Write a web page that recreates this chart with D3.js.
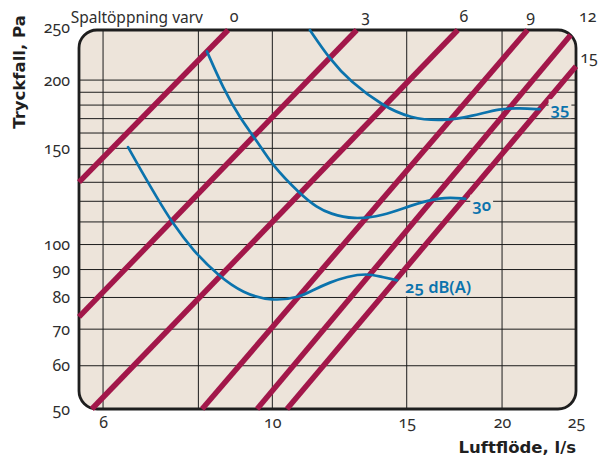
<!DOCTYPE html>
<html>

<head>
    <meta charset="UTF-8">
    <style>
        body { margin: 0; background: #fff; }
        svg { display: block; }
        text { font-family: "Noto Sans", "Open Sans", sans-serif; font-variant-numeric: oldstyle-nums; font-feature-settings: "onum" 1; }
        .title { font-family: "DejaVu Sans", sans-serif; font-weight: bold; font-size: 16.5px; fill: #1f1f1f; }
    </style>
</head>

<body>
    <svg></svg>
    <script src="https://d3js.org/d3.v7.min.js"></script>

    <script>

        let width = 599, height = 459;

        // axes
        const xTicks = [6, 10, 15, 20, 25];
        const xGrid = [6, 8, 10, 15, 20];
        const yTicks = [50, 60, 70, 80, 90, 100, 150, 200, 250];
        const yGrid = [60, 70, 80, 90, 100, 110, 120, 130, 140, 150, 160, 170, 180, 190, 200];

        // Spaltöppning (varv) lines, [l/s, Pa] at both ends
        const spaltVarv = ["0", "3", "6", "9", "12", "15"];
        const spaltFrom = [[5.58, 130.1], [5.58, 73.7], [5.80, 50], [8.09, 50], [9.55, 50], [10.45, 50]];
        const spaltTo = [[8.75, 247], [12.9, 247], [17.5, 247], [21.6, 247], [24.6, 241.8], [25, 212]];

        // sound level curves
        const soundLabels = ["25 dB(A)", "30", "35"];
        const sound25 = [[6.47, 150.8], [6.77, 134.7], [7.06, 121.8], [7.39, 109.7], [7.87, 97.5], [8.49, 87.8], [9.15, 81.4],
            [10.0, 78.7], [10.87, 80.1], [11.3, 82.5], [11.9, 85.3], [12.53, 87.4], [13.3, 88.5], [13.84, 87.4], [14.57, 86.0]];
        const sound30 = [[8.21, 225.6], [8.62, 193.2], [9.07, 170.3], [9.55, 154.7], [10.0, 139.5], [10.87, 123.8], [11.45, 116.8],
            [11.9, 113.9], [12.76, 111.1], [13.97, 112.9], [15.15, 117.8], [16.6, 122.3], [17.9, 121.3]];
        const sound35 = [[11.2, 247], [11.9, 218.2], [12.64, 199], [13.97, 179.2], [15.15, 170.3], [16.74, 168.2], [18.3, 171.8],
            [19.9, 177.6], [21.1, 177.6], [22.4, 176.9]];

        const red = "#a2174a", blue = "#0b73ad", paper = "#ede4da";

        let svg = d3.select("svg")
            .attr("width", width)
            .attr("height", height)
            .attr("viewBox", "0 0 " + width + " " + height);

        let margin = { left: 79, right: 23, top: 30, bottom: 50 };
        let x = d3.scaleLog().domain([5.58, 25]).range([margin.left, width - margin.right]);
        let y = d3.scaleLog().domain([50, 247]).range([height - margin.bottom, margin.top]);

        let pw = x.range()[1] - x.range()[0], ph = y.range()[0] - y.range()[1];

        svg.append("clipPath").attr("id", "plot")
            .append("rect")
            .attr("x", margin.left).attr("y", margin.top)
            .attr("width", pw).attr("height", ph).attr("rx", 18);

        svg.append("rect")
            .attr("x", margin.left).attr("y", margin.top)
            .attr("width", pw).attr("height", ph).attr("rx", 18)
            .attr("fill", paper);

        // grid
        let grid = svg.append("g").attr("clip-path", "url(#plot)")
            .attr("stroke", "#1c1c1c").attr("stroke-width", 1);
        grid.selectAll(".gx").data(xGrid).enter().append("line")
            .attr("x1", d => x(d)).attr("x2", d => x(d))
            .attr("y1", margin.top).attr("y2", margin.top + ph);
        grid.selectAll(".gy").data(yGrid).enter().append("line")
            .attr("x1", margin.left).attr("x2", margin.left + pw)
            .attr("y1", d => y(d)).attr("y2", d => y(d));

        svg.append("rect")
            .attr("x", margin.left).attr("y", margin.top)
            .attr("width", pw).attr("height", ph).attr("rx", 18)
            .attr("fill", "none").attr("stroke", "#1e1e1e").attr("stroke-width", 2.8);

        // axes
        let yAxis = svg.append("g")
            .attr("transform", "translate(" + margin.left + ",0)")
            .call(d3.axisLeft(y).tickValues(yTicks).tickFormat(d3.format("d")).tickSize(0).tickPadding(9));
        let xAxis = svg.append("g")
            .attr("transform", "translate(0," + (margin.top + ph) + ")")
            .call(d3.axisBottom(x).tickValues(xTicks).tickFormat(d3.format("d")).tickSize(0).tickPadding(8));
        svg.selectAll(".domain").remove();
        svg.selectAll(".tick text")
            .attr("fill", "#2e2e2e")
            .style("font-size", "16px")
            .style("font-family", null);

        // spalt lines
        svg.append("g").selectAll("line")
            .data(spaltVarv)
            .enter()
            .append("line")
            .attr("x1", (d, i) => x(spaltFrom[i][0])).attr("y1", (d, i) => y(spaltFrom[i][1]))
            .attr("x2", (d, i) => x(spaltTo[i][0])).attr("y2", (d, i) => y(spaltTo[i][1]))
            .attr("stroke", red).attr("stroke-width", 5.5);

        let spaltDx = [6, 9, 6, 3, 17, 13], spaltDy = [-8, -8, -8, -8, -13, -3];
        svg.append("g").selectAll("text")
            .data(spaltVarv)
            .enter()
            .append("text")
            .attr("x", (d, i) => x(spaltTo[i][0]) + spaltDx[i])
            .attr("y", (d, i) => y(spaltTo[i][1]) + spaltDy[i])
            .attr("text-anchor", "middle")
            .attr("fill", "#2e2e2e")
            .style("font-size", "16px")
            .text(d => d);

        svg.append("text")
            .attr("x", 203).attr("y", 23)
            .attr("text-anchor", "end")
            .attr("fill", "#2e2e2e")
            .style("font-size", "15.5px")
            .text("Spaltöppning varv");

        // sound curves
        let line = d3.line().x(d => x(d[0])).y(d => y(d[1])).curve(d3.curveBasis);
        let curves = [sound25, sound30, sound35];
        svg.append("g").selectAll("path")
            .data(curves)
            .enter()
            .append("path")
            .attr("d", line)
            .attr("fill", "none")
            .attr("stroke", blue)
            .attr("stroke-width", 2.7)
            .attr("stroke-linecap", "round");

        let labDx = [8, 7, 11], labDy = [13, 12, 6];
        let labels = svg.append("g").selectAll("g")
            .data(soundLabels)
            .enter()
            .append("g");
        labels.append("text")
            .attr("x", (d, i) => x(curves[i][curves[i].length - 1][0]) + labDx[i])
            .attr("y", (d, i) => y(curves[i][curves[i].length - 1][1]) + labDy[i])
            .attr("fill", blue)
            .style("font-size", "16.5px")
            .style("font-weight", 600)
            .text(d => d);
        labels.each(function () {
            let g = d3.select(this);
            let b = g.select("text").node().getBBox();
            g.insert("rect", "text")
                .attr("x", b.x - 2).attr("y", b.y + 2)
                .attr("width", b.width + 4).attr("height", b.height - 4)
                .attr("fill", paper);
        });

        // titles
        svg.append("text")
            .attr("class", "title")
            .attr("transform", "translate(25,72) rotate(-90)")
            .attr("text-anchor", "middle")
            .text("Tryckfall, Pa");
        svg.append("text")
            .attr("class", "title")
            .attr("x", 576).attr("y", 453)
            .attr("text-anchor", "end")
            .text("Luftflöde, l/s");

    </script>
</body>

</html>
